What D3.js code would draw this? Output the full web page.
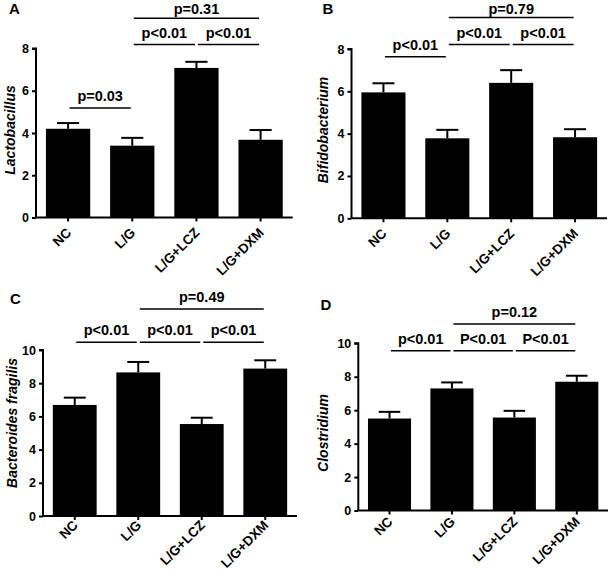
<!DOCTYPE html>
<html>
<head>
<meta charset="utf-8">
<script src="https://cdn.jsdelivr.net/npm/d3@7"></script>
<style>
  html, body { margin: 0; padding: 0; background: #fff; }
  svg { display: block; }
  text { font-family: Arial, "Liberation Sans", sans-serif; font-weight: bold; fill: #000; }
</style>
</head>
<body>
<svg id="chart" width="609" height="574"></svg>
<script>
// ---------- data ----------
const categories = ["NC", "L/G", "L/G+LCZ", "L/G+DXM"];

const lactobacillusMean = [4.2, 3.4, 7.08, 3.68];
const lactobacillusSem  = [0.27, 0.37, 0.29, 0.46];

const bifidobacteriumMean = [5.95, 3.78, 6.4, 3.83];
const bifidobacteriumSem  = [0.43, 0.4, 0.6, 0.38];

const bacteroidesMean = [6.69, 8.65, 5.54, 8.88];
const bacteroidesSem  = [0.44, 0.63, 0.38, 0.5];

const clostridiumMean = [5.5, 7.3, 5.56, 7.7];
const clostridiumSem  = [0.4, 0.36, 0.4, 0.36];

const ticks8  = [0, 2, 4, 6, 8];
const ticks10 = [0, 2, 4, 6, 8, 10];

// comparisons: [from index, to index, label]
const compA = [[0, 1, "p=0.03"], [1, 2, "p<0.01"], [2, 3, "p<0.01"], [1, 3, "p=0.31"]];
const compB = [[0, 1, "p<0.01"], [1, 2, "p<0.01"], [2, 3, "p<0.01"], [1, 3, "p=0.79"]];
const compC = [[0, 1, "p<0.01"], [1, 2, "p<0.01"], [2, 3, "p<0.01"], [1, 3, "p=0.49"]];
const compD = [[0, 1, "p<0.01"], [1, 2, "P<0.01"], [2, 3, "P<0.01"], [1, 3, "p=0.12"]];

// ---------- layout ----------
const panels = [
  { tag: "A", mean: lactobacillusMean, sem: lactobacillusSem, ticks: ticks8, yLabel: "Lactobacillus",
    x0: 36, x1: 292.7, yTop: 48.5, yBot: 217.5, comps: compA, compY: [108, 44.5, 44.5, 18.3],
    tagPos: [9, 14], yLabelPos: [15, 130], xLabOff: 16 },
  { tag: "B", mean: bifidobacteriumMean, sem: bifidobacteriumSem, ticks: ticks8, yLabel: "Bifidobacterium",
    x0: 351.5, x1: 607, yTop: 49, yBot: 218.3, comps: compB, compY: [56.7, 44.5, 44.5, 17.5],
    tagPos: [322.5, 14], yLabelPos: [328, 130], xLabOff: 16 },
  { tag: "C", mean: bacteroidesMean, sem: bacteroidesSem, ticks: ticks10, yLabel: "Bacteroides fragilis",
    x0: 43, x1: 297, yTop: 350, yBot: 516, comps: compC, compY: [342.3, 342.3, 342.3, 309],
    tagPos: [10, 303.5], yLabelPos: [17, 423], xLabOff: 10 },
  { tag: "D", mean: clostridiumMean, sem: clostridiumSem, ticks: ticks10, yLabel: "Clostridium",
    x0: 358.3, x1: 608, yTop: 343.3, yBot: 510.5, comps: compD, compY: [350.7, 350.7, 350.7, 324],
    tagPos: [320.5, 309.5], yLabelPos: [328, 433], xLabOff: 12 }
];

const FONT = "Arial, 'Liberation Sans', sans-serif";
const svg = d3.select("#chart");

panels.forEach(p => {
  const g = svg.append("g");
  const x = d3.scaleBand().domain(categories).range([p.x0, p.x1])
    .paddingInner(0.31).paddingOuter(0.155);
  const yMax = p.ticks[p.ticks.length - 1];
  const y = d3.scaleLinear().domain([0, yMax]).range([p.yBot, p.yTop]);
  const cx = i => x(categories[i]) + x.bandwidth() / 2;

  // bars
  g.selectAll("rect.bar").data(p.mean).join("rect")
    .attr("class", "bar")
    .attr("x", (d, i) => x(categories[i]))
    .attr("width", x.bandwidth())
    .attr("y", d => y(d))
    .attr("height", d => y(0) - y(d))
    .attr("fill", "#000");

  // error bars (upper only)
  const capW = x.bandwidth() / 2;
  p.mean.forEach((m, i) => {
    const top = y(m + p.sem[i]);
    g.append("line").attr("x1", cx(i)).attr("x2", cx(i))
      .attr("y1", y(m)).attr("y2", top)
      .attr("stroke", "#000").attr("stroke-width", 2);
    g.append("line").attr("x1", cx(i) - capW / 2).attr("x2", cx(i) + capW / 2)
      .attr("y1", top).attr("y2", top)
      .attr("stroke", "#000").attr("stroke-width", 2);
  });

  // y axis
  const yAxis = d3.axisLeft(y).tickValues(p.ticks).tickSize(4).tickPadding(3).tickFormat(d3.format("d"));
  const ya = g.append("g").attr("transform", `translate(${p.x0},0)`).call(yAxis);
  ya.select(".domain").attr("stroke-width", 2).attr("d", `M-4,${y(yMax)}H0V${y(0)}`);
  ya.selectAll(".tick line").attr("stroke-width", 2);
  ya.selectAll(".tick text").style("font-size", "12.5px").style("font-family", FONT).style("font-weight", "bold");

  // x axis
  const xAxis = d3.axisBottom(x).tickSize(4).tickSizeOuter(0);
  const xa = g.append("g").attr("transform", `translate(0,${p.yBot})`).call(xAxis);
  xa.select(".domain").attr("stroke-width", 2).attr("d", `M${p.x0},0H${p.x1}`);
  xa.selectAll(".tick line").attr("stroke-width", 2);
  xa.selectAll(".tick text")
    .style("font-size", "13.5px").style("font-family", FONT).style("font-weight", "bold")
    .attr("text-anchor", "end")
    .attr("x", 0).attr("y", 0).attr("dy", 0)
    .attr("transform", `translate(4,${p.xLabOff}) rotate(-45)`);

  // y label
  g.append("text")
    .attr("transform", `translate(${p.yLabelPos[0]},${p.yLabelPos[1]}) rotate(-90)`)
    .attr("text-anchor", "middle")
    .style("font-size", "14px").style("font-style", "italic")
    .text(p.yLabel);

  // panel tag
  g.append("text").attr("x", p.tagPos[0]).attr("y", p.tagPos[1])
    .style("font-size", "15px").text(p.tag);

  // comparisons
  p.comps.forEach((c, k) => {
    const ly = p.compY[k];
    const xa1 = cx(c[0]) + 1.5, xa2 = cx(c[1]) - 1.5;
    g.append("line").attr("x1", xa1).attr("x2", xa2).attr("y1", ly).attr("y2", ly)
      .attr("stroke", "#000").attr("stroke-width", 1.5);
    g.append("text").attr("x", (xa1 + xa2) / 2).attr("y", Math.max(ly - 7, 13.5))
      .attr("text-anchor", "middle").style("font-size", "14.5px").text(c[2]);
  });
});
</script>
</body>
</html>
